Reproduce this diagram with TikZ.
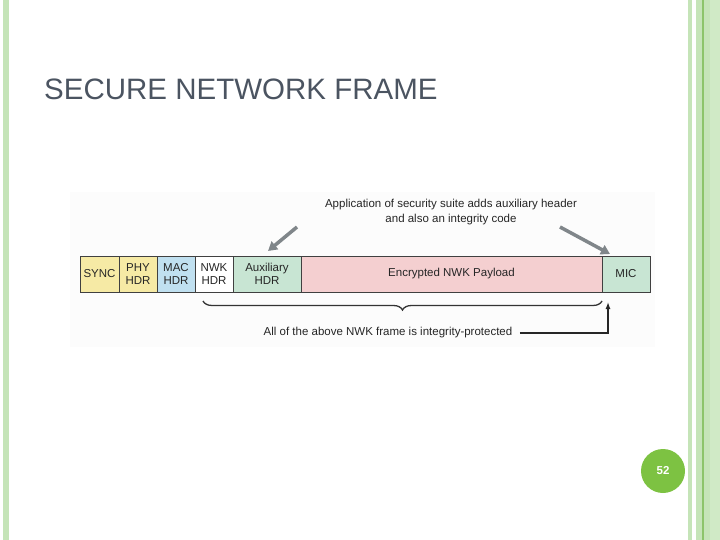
\documentclass[tikz,border=0pt]{standalone}
\usepackage{fontspec}
\setmainfont{Liberation Sans}
\usetikzlibrary{positioning,decorations.pathreplacing,arrows.meta}
\definecolor{barGreen}{RGB}{197,228,184}
\definecolor{barGreenLt}{RGB}{208,234,198}
\definecolor{barGreenDk}{RGB}{140,196,106}
\definecolor{titleGray}{RGB}{75,84,97}
\definecolor{syncYellow}{RGB}{246,234,165}
\definecolor{macBlue}{RGB}{192,224,240}
\definecolor{auxGreen}{RGB}{200,229,211}
\definecolor{payPink}{RGB}{244,207,208}
\definecolor{arrowGray}{RGB}{128,134,138}
\definecolor{pageGreen}{RGB}{125,194,66}
\begin{document}
\begin{tikzpicture}[x=1pt,y=-1pt,
	field/.style={draw=black!75, line width=0.8pt, minimum height=36pt, inner sep=0pt,
		outer sep=0pt, align=center, text=black!85,
		font=\fontsize{11.5}{13}\selectfont},
	note/.style={text=black!85, align=center, font=\fontsize{11.5}{15}\selectfont},
	bigarrow/.style={arrowGray, line width=3.5pt, -{Triangle[length=9pt,width=10pt]}}]
	\useasboundingbox (0,0) rectangle (720,540);
	% slide frame
	\fill[barGreen] (3,0) rectangle (9,540);
	\fill[barGreen] (688,0) rectangle (692,540);
	\fill[barGreen] (696,0) rectangle (710,540);
	\fill[barGreenLt] (710,0) rectangle (720,540);
	\fill[barGreenDk] (702,0) rectangle (703.5,540);
	\fill[black!1] (70,192) rectangle (655,347);
	\node[anchor=base west, text=titleGray, font=\fontsize{29.5}{31}\selectfont, inner sep=0pt] (title) at (44,100) {SECURE NETWORK FRAME};
	% frame fields
	\node[field, fill=syncYellow, minimum width=39pt, anchor=north west] (sync) at (80,256) {SYNC};
	\node[field, fill=syncYellow, minimum width=38pt, right=0pt of sync] (phy) {PHY\\HDR};
	\node[field, fill=macBlue, minimum width=38pt, right=0pt of phy] (mac) {MAC\\HDR};
	\node[field, fill=white, minimum width=38pt, right=0pt of mac] (nwk) {NWK\\HDR};
	\node[field, fill=auxGreen, minimum width=68pt, right=0pt of nwk] (aux) {Auxiliary\\HDR};
	\node[field, fill=payPink, minimum width=301pt, right=0pt of aux] (payload) {Encrypted NWK Payload};
	\node[field, fill=auxGreen, minimum width=48pt, right=0pt of payload] (mic) {MIC};
	% notes
	\node[note] (suite) at (451,212) {Application of security suite adds auxiliary header\\and also an integrity code};
	\node[note] (protect) at (388,333) {All of the above NWK frame is integrity-protected};
	\coordinate (auxTail) at (297,227);
	\coordinate (micTail) at (560,227);
	\draw[bigarrow] (auxTail) -- (268,251);
	\draw[bigarrow] (micTail) -- (610,254);
	\draw[black!80, line width=1.3pt, decoration={brace, mirror, amplitude=9pt}, decorate]
		([xshift=8pt,yshift=-9pt]nwk.south west) -- ([yshift=-9pt]payload.south east);
	\coordinate (micUp) at (608,302);
	\draw[black!85, line width=1.3pt, -{Latex[length=7pt,width=5pt]}] (protect.east) ++(4pt,0) -| (micUp);
	% page number
	\node[circle, fill=pageGreen, minimum size=44pt, inner sep=0pt, text=white,
		font=\fontsize{11.5}{12}\selectfont\bfseries] (page) at (663,471) {52};
\end{tikzpicture}
\end{document}
